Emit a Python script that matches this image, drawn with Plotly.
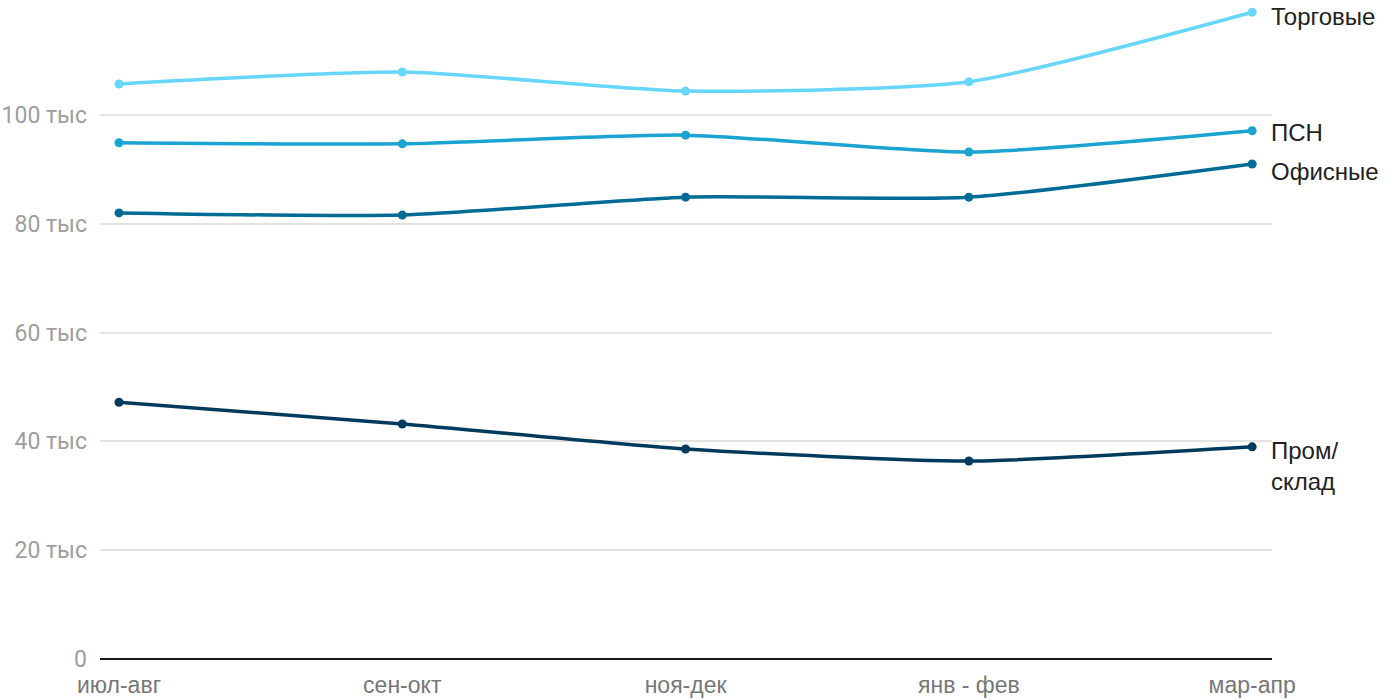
import plotly.graph_objects as go

categories = ["июл-авг", "сен-окт", "ноя-дек", "янв - фев", "мар-апр"]
torgovye = [105.7, 107.9, 104.4, 106.1, 118.9]
psn = [94.9, 94.7, 96.3, 93.2, 97.1]
ofisnye = [82.0, 81.6, 84.9, 84.9, 91.0]
prom_sklad = [47.2, 43.2, 38.6, 36.4, 39.0]
y_tick_vals = [0, 20, 40, 60, 80, 100]
y_tick_text = ["0", "20 тыс", "40 тыс", "60 тыс", "80 тыс", "100 тыс"]

series = [
    ("Торговые", torgovye, "#66d6fa", "Торговые", -4),
    ("ПСН", psn, "#1ba3d1", "ПСН", -2),
    ("Офисные", ofisnye, "#006b94", "Офисные", -8),
    ("Пром/склад", prom_sklad, "#003a5c", "Пром/<br>склад", -19),
]

x = list(range(len(categories)))
fig = go.Figure()
for name, vals, color, label, yshift in series:
    fig.add_trace(go.Scatter(
        x=x, y=vals, name=name, mode="lines+markers",
        line=dict(color=color, width=3.5, shape="spline", smoothing=0.6),
        marker=dict(color=color, size=9),
        cliponaxis=False,
        hoverinfo="skip",
    ))
    fig.add_annotation(
        x=x[-1], y=vals[-1], xref="x", yref="y", text=label,
        showarrow=False, xanchor="left", yanchor="middle", xshift=17, yshift=yshift,
        align="left", font=dict(family="Liberation Sans, Arial, sans-serif", size=24, color="#222222"),
    )

fig.update_layout(
    width=1400, height=700,
    margin=dict(l=100, r=128, t=8, b=41),
    paper_bgcolor="white", plot_bgcolor="white",
    showlegend=False,
    font=dict(family="Roboto, sans-serif"),
)
fig.update_xaxes(
    range=[-0.067, 4.07], tickvals=x, ticktext=categories,
    showgrid=False, zeroline=False, showline=False, ticks="",
    automargin=False, ticklabelstandoff=10,
    tickfont=dict(family="Liberation Sans, Arial, sans-serif", size=23, color="#777777"),
)
fig.update_yaxes(
    range=[0, 119.67], tickvals=y_tick_vals, ticktext=y_tick_text,
    showgrid=True, gridcolor="#e3e3e3", gridwidth=1.5,
    zeroline=True, zerolinecolor="#1a1a1a", zerolinewidth=2,
    showline=False, ticks="", ticklabelstandoff=12, automargin=False,
    tickfont=dict(family="Roboto, sans-serif", size=23, color="#9e9e9e"),
)
fig.write_html(
    "out.html",
    config={"displayModeBar": False},
    post_script="document.body.style.margin='0px';document.body.style.overflow='hidden';",
)
